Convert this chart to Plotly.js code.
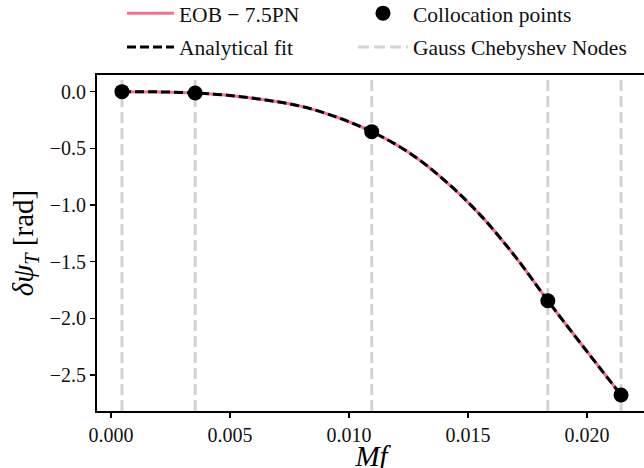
<!DOCTYPE html>
<html>
<head>
<meta charset="utf-8">
<script src="https://cdn.plot.ly/plotly-3.0.1.min.js"></script>
<style>
  html, body { margin: 0; padding: 0; overflow: hidden; background: #fff; }
  #chart { width: 652px; height: 472px; }
</style>
</head>
<body>
<div id="chart"></div>
<script>
// Collocation points / Gauss-Chebyshev nodes (Mf)
const nodesX = [0.000462, 0.003538, 0.010953, 0.018351, 0.021427];
const collocY = [0.0, -0.012, -0.353, -1.845, -2.677];

// Curve samples
const curveX = [0.000462, 0.002, 0.003538, 0.005, 0.0065, 0.008, 0.0095, 0.010953,
                0.0125, 0.014, 0.0155, 0.017, 0.018351, 0.0198, 0.021427];
const eobY = [0.0, -0.002, -0.012, -0.034, -0.074, -0.13, -0.226, -0.353,
              -0.535, -0.78, -1.085, -1.46, -1.845, -2.24, -2.677];
const fitY = [0.0, -0.002, -0.012, -0.034, -0.074, -0.13, -0.226, -0.353,
              -0.535, -0.78, -1.085, -1.46, -1.845, -2.24, -2.677];

const xRange = [-0.000586, 0.022475];
const yRange = [-2.818, 0.147];

// vertical node lines spanning the axis range
const vx = [], vy = [];
nodesX.forEach(x => { vx.push(x, x, null); vy.push(yRange[0], yRange[1], null); });

const serif = "'Liberation Serif', 'DejaVu Serif', serif";

const traces = [
  { x: vx, y: vy, mode: 'lines', name: 'Gauss Chebyshev Nodes', legend: 'legend2', legendgroup: 'g4',
    line: { color: '#d3d3d3', width: 3, dash: '11px,5px' }, legendrank: 2, hoverinfo: 'skip' },
  { x: curveX, y: eobY, mode: 'lines', name: 'EOB − 7.5PN', legend: 'legend', legendgroup: 'g1',
    line: { color: '#f7708c', width: 3, shape: 'spline' }, legendrank: 1 },
  { x: curveX, y: fitY, mode: 'lines', name: 'Analytical fit', legend: 'legend', legendgroup: 'g3',
    line: { color: '#000000', width: 3, dash: '9px,4px', shape: 'spline' }, legendrank: 2 },
  { x: nodesX, y: collocY, mode: 'markers', name: 'Collocation points', legend: 'legend2', legendgroup: 'g2',
    marker: { color: '#000000', size: 15 }, legendrank: 1 }
];

const legendCommon = {
  orientation: 'v', y: 1.245, yanchor: 'top', xanchor: 'left',
  font: { family: serif, size: 21.5, color: '#111' },
  bgcolor: 'rgba(0,0,0,0)', traceorder: 'grouped', tracegroupgap: 3
};

const layout = {
  width: 652, height: 472,
  margin: { l: 97, r: 6, t: 75, b: 61, autoexpand: false },
  paper_bgcolor: '#ffffff', plot_bgcolor: '#ffffff',
  font: { family: serif, size: 20, color: '#111' },
  showlegend: true,
  legend: Object.assign({}, legendCommon, { x: 0.0455, itemwidth: 47 }),
  legend2: Object.assign({}, legendCommon, { x: 0.4663, itemwidth: 50 }),
  xaxis: {
    range: xRange, tickmode: 'linear', tick0: 0, dtick: 0.005, tickformat: '.3f',
    showgrid: false, zeroline: false, showline: true, mirror: true,
    linecolor: '#000', linewidth: 2, ticks: 'outside', ticklen: 5, tickwidth: 1.3, tickcolor: '#000',
    tickfont: { family: serif, size: 20, color: '#111' },
    title: { text: '<i>Mf</i>', font: { family: serif, size: 29, color: '#000' }, standoff: 8 }
  },
  yaxis: {
    range: yRange, tickmode: 'linear', tick0: 0, dtick: 0.5, tickformat: '.1f',
    showgrid: false, zeroline: false, showline: true, mirror: true,
    linecolor: '#000', linewidth: 2, ticks: 'outside', ticklen: 5, tickwidth: 1.3, tickcolor: '#000',
    tickfont: { family: serif, size: 20, color: '#111' },
    title: { text: '<i>δψ</i><sub><i>T</i></sub> [rad]', font: { family: serif, size: 29, color: '#000' }, standoff: 8 }
  }
};

Plotly.newPlot('chart', traces, layout, { staticPlot: true, displayModeBar: false });
</script>
</body>
</html>
